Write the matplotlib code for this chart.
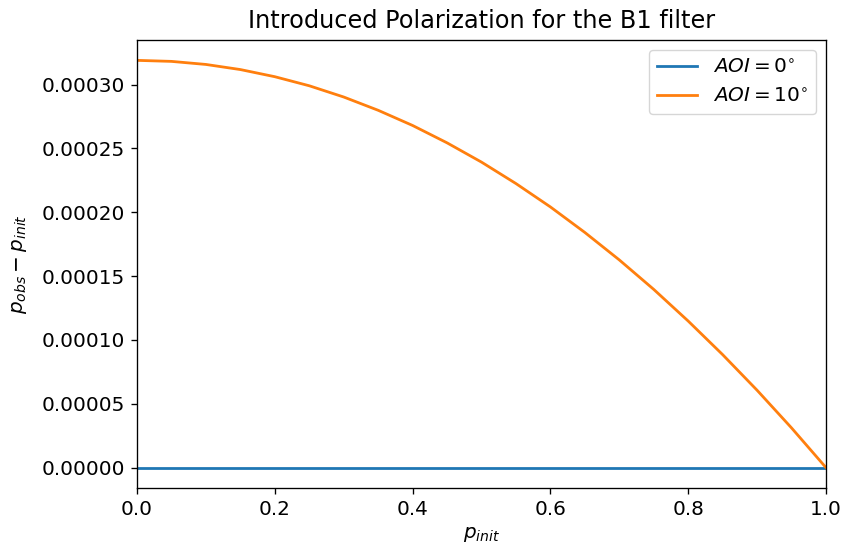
import matplotlib
matplotlib.use("Agg")
import matplotlib.pyplot as plt

p_init = [0.00, 0.05, 0.10, 0.15, 0.20, 0.25, 0.30, 0.35, 0.40, 0.45, 0.50,
          0.55, 0.60, 0.65, 0.70, 0.75, 0.80, 0.85, 0.90, 0.95, 1.00]
aoi0 = [0.0] * 21
aoi10 = [3.190e-4, 3.182e-4, 3.158e-4, 3.118e-4, 3.062e-4, 2.991e-4, 2.903e-4,
         2.799e-4, 2.680e-4, 2.544e-4, 2.393e-4, 2.225e-4, 2.042e-4, 1.842e-4,
         1.627e-4, 1.396e-4, 1.148e-4, 0.885e-4, 0.606e-4, 0.311e-4, 0.0]
labels = [r"$AOI = 0^{\circ}$", r"$AOI = 10^{\circ}$"]

s = 1.2
plt.rcParams.update({
    'font.size': 12 * s,
    'axes.linewidth': 0.8 * s,
    'xtick.major.size': 3.5 * s,
    'ytick.major.size': 3.5 * s,
    'xtick.major.width': 0.8 * s,
    'ytick.major.width': 0.8 * s,
    'xtick.major.pad': 3.5 * s,
    'ytick.major.pad': 3.5 * s,
    'axes.labelpad': 4.0 * s,
    'axes.titlepad': 6.0 * s,
})
fig = plt.figure(figsize=(8.45, 5.54), dpi=100)
ax = fig.add_axes([137/845, 1 - 488/554, (826-137)/845, (488-40)/554])
ax.plot(p_init, aoi0, color='#1f77b4', lw=2.0, label=labels[0])
ax.plot(p_init, aoi10, color='#ff7f0e', lw=2.0, label=labels[1])
ax.set_xlim(0, 1)
ax.set_title("Introduced Polarization for the B1 filter", fontsize=14.4 * s, pad=8.5)
ax.set_xlabel(r"$p_{init}$")
ax.set_ylabel(r"$p_{obs} - p_{init}$", labelpad=9)
ax.legend(loc='upper right')
fig.savefig("out.png", dpi=100)
